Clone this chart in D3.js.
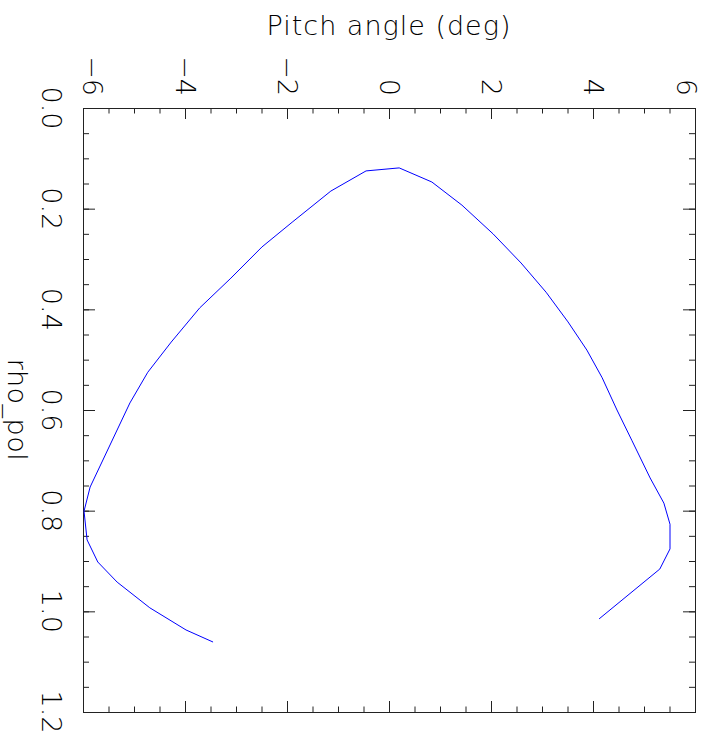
<!DOCTYPE html>
<html>
<head>
<meta charset="utf-8">
<script src="https://cdn.jsdelivr.net/npm/d3@7"></script>
<style>
  html, body { margin: 0; padding: 0; background: #fff; }
  svg { display: block; }
  text { font-family: "DejaVu Sans", "Liberation Sans", sans-serif; font-weight: 200; fill: #000; }
</style>
</head>
<body>
<svg id="chart" width="706" height="745"></svg>
<script>
// Pitch angle profile along rho_pol, listed in path order
const pitchDeg = [-3.45, -3.98, -4.69, -5.33, -5.71, -5.92, -5.98, -5.86, -5.08, -4.73,
                  -4.27, -3.71, -3.10, -2.49, -1.90, -1.14, -0.45, 0.20, 0.84, 1.43,
                  2.04, 2.59, 3.08, 3.51, 3.88, 4.18, 4.47, 4.76, 5.12, 5.39,
                  5.51, 5.51, 5.31, 4.12];
const rhoPol   = [1.061, 1.037, 0.993, 0.942, 0.902, 0.858, 0.801, 0.753, 0.586, 0.525,
                  0.465, 0.397, 0.338, 0.276, 0.227, 0.165, 0.125, 0.119, 0.147, 0.193,
                  0.250, 0.308, 0.366, 0.425, 0.481, 0.536, 0.600, 0.660, 0.735, 0.785,
                  0.827, 0.876, 0.916, 1.015];

// Axis ticks
const pitchMajor = [-6, -4, -2, 0, 2, 4, 6];
const pitchMinor = d3.range(-6, 6.0001, 0.5);
const rhoMajor = [0.0, 0.2, 0.4, 0.6, 0.8, 1.0, 1.2];
const rhoMinor = d3.range(0, 1.2001, 0.05);
const pitchLabels = ["−6", "−4", "−2", "0", "2", "4", "6"];
const rhoLabels = ["0.0", "0.2", "0.4", "0.6", "0.8", "1.0", "1.2"];

const svg = d3.select("#chart");
const frame = { left: 83, right: 695, top: 108, bottom: 712 };

const x = d3.scaleLinear().domain([-6, 6]).range([frame.left, frame.right]);
const y = d3.scaleLinear().domain([0, 1.2]).range([frame.top, frame.bottom]);

const axisColor = "#222";

// Tick marks pointing into the frame on all four sides
function ticks(axisFn, scale, values, size, translate) {
  const g = svg.append("g")
    .attr("transform", translate)
    .call(axisFn(scale).tickValues(values).tickSize(size).tickFormat(""));
  g.select(".domain").remove();
  g.selectAll("line").attr("stroke", axisColor).attr("stroke-width", 1);
  return g;
}
ticks(d3.axisTop, x, pitchMinor, -5.5, `translate(0,${frame.top})`);
ticks(d3.axisTop, x, pitchMajor, -11, `translate(0,${frame.top})`);
ticks(d3.axisBottom, x, pitchMinor, -5.5, `translate(0,${frame.bottom})`);
ticks(d3.axisBottom, x, pitchMajor, -11, `translate(0,${frame.bottom})`);
ticks(d3.axisLeft, y, rhoMinor, -6, `translate(${frame.left},0)`);
ticks(d3.axisLeft, y, rhoMajor, -12, `translate(${frame.left},0)`);
ticks(d3.axisRight, y, rhoMinor, -6, `translate(${frame.right},0)`);
ticks(d3.axisRight, y, rhoMajor, -12, `translate(${frame.right},0)`);

// Frame
svg.append("rect")
  .attr("x", frame.left + 0.5).attr("y", frame.top + 0.5)
  .attr("width", frame.right - frame.left).attr("height", frame.bottom - frame.top)
  .attr("fill", "none").attr("stroke", axisColor).attr("stroke-width", 1);

// Pitch tick labels, rotated to read downward
const fs = 27;
svg.append("g").selectAll("text")
  .data(pitchMajor)
  .join("text")
  .attr("transform", (d, i) => {
    let cx = x(d);
    if (i === 0) cx += 9;
    if (i === pitchMajor.length - 1) cx -= 9;
    return `translate(${cx},${frame.top - 12}) rotate(90)`;
  })
  .attr("text-anchor", "end")
  .attr("dy", "0.35em")
  .attr("font-size", fs)
  .text((d, i) => pitchLabels[i]);

// rho_pol tick labels
svg.append("g").selectAll("text")
  .data(rhoMajor)
  .join("text")
  .attr("transform", d => `translate(42,${y(d)}) rotate(90)`)
  .attr("text-anchor", "middle")
  .attr("font-size", fs)
  .text((d, i) => rhoLabels[i]);

// Axis titles
svg.append("text")
  .attr("x", (frame.left + frame.right) / 2)
  .attr("y", 35)
  .attr("text-anchor", "middle")
  .attr("font-size", fs)
  .attr("letter-spacing", 1)
  .text("Pitch angle (deg)");

svg.append("text")
  .attr("transform", `translate(8,${(frame.top + frame.bottom) / 2}) rotate(90)`)
  .attr("text-anchor", "middle")
  .attr("font-size", fs)
  .attr("letter-spacing", 0.5)
  .text("rho_pol");

// Profile curve
const pts = pitchDeg.map((p, i) => [p, rhoPol[i]]);
svg.append("path")
  .datum(pts)
  .attr("fill", "none")
  .attr("stroke", "#0000ff")
  .attr("stroke-width", 1)
  .attr("d", d3.line().x(d => x(d[0])).y(d => y(d[1])));
</script>
</body>
</html>
